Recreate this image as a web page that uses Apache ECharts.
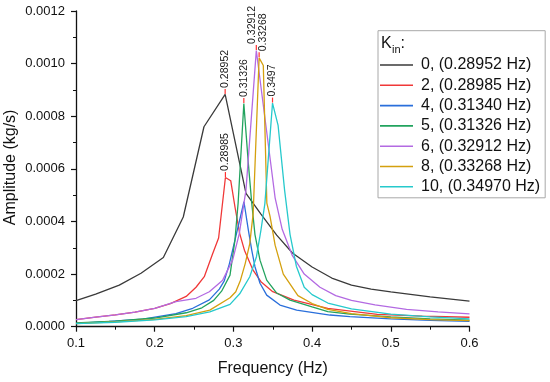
<!DOCTYPE html>
<html><head><meta charset="utf-8">
<script src="https://cdn.jsdelivr.net/npm/echarts@6/dist/echarts.min.js"></script>
<style>html,body{margin:0;padding:0;background:#fff}#c{width:550px;height:382px}</style>
</head><body><div id="c"></div>
<script>
// ---- data ----
const seriesNames = ['0, (0.28952 Hz)', '2, (0.28985 Hz)', '4, (0.31340 Hz)', '5, (0.31326 Hz)', '6, (0.32912 Hz)', '8, (0.33268 Hz)', '10, (0.34970 Hz)'];
const peakLabels = ['0.28952', '0.28985', null, '0.31326', '0.32912', '0.33268', '0.3497'];

const freqK0 = [0.1, 0.125, 0.155, 0.1826, 0.211, 0.2363, 0.2626, 0.28952, 0.316, 0.335, 0.355, 0.375, 0.4, 0.425, 0.45, 0.475, 0.5, 0.55, 0.6];
const ampK0  = [0.0000987, 0.000124, 0.000158, 0.000203, 0.000263, 0.000417, 0.00076, 0.000883, 0.000507, 0.000428, 0.000348, 0.00028, 0.000227, 0.000185, 0.000158, 0.000143, 0.000132, 0.000113, 0.0000975];

const freqK2 = [0.1, 0.125, 0.15, 0.175, 0.2, 0.22, 0.24, 0.2525, 0.263, 0.2735, 0.2812, 0.28985, 0.2966, 0.302, 0.308, 0.314, 0.325, 0.335, 0.35, 0.377, 0.42, 0.483, 0.54, 0.6];
const ampK2  = [0.000027, 0.000036, 0.000045, 0.000055, 0.00007, 0.000088, 0.000115, 0.00015, 0.00019, 0.000276, 0.000337, 0.000567, 0.000555, 0.000455, 0.000354, 0.000291, 0.000215, 0.000171, 0.000133, 0.000101, 0.00007, 0.000047, 0.00004, 0.000036];

const freqK4 = [0.1, 0.142, 0.185, 0.227, 0.2483, 0.2694, 0.2821, 0.2884, 0.2948, 0.3134, 0.319, 0.3233, 0.3274, 0.3338, 0.3423, 0.3592, 0.3804, 0.4227, 0.448, 0.5, 0.55, 0.6];
const ampK4  = [0.000013, 0.00002, 0.000029, 0.00005, 0.00007, 0.000102, 0.000143, 0.000174, 0.000238, 0.000475, 0.000367, 0.000291, 0.000228, 0.000165, 0.00012, 0.0000824, 0.0000634, 0.0000444, 0.000038, 0.00003, 0.000024, 0.00002];

const freqK5 = [0.1, 0.15, 0.2, 0.24, 0.26, 0.275, 0.285, 0.2957, 0.302, 0.306, 0.31326, 0.319, 0.3233, 0.3274, 0.3338, 0.3423, 0.355, 0.372, 0.4, 0.42, 0.448, 0.5, 0.55, 0.6];
const ampK5  = [0.000014, 0.000021, 0.000033, 0.000053, 0.000072, 0.0001, 0.000135, 0.000196, 0.00033, 0.00047, 0.000848, 0.00062, 0.00047, 0.00035, 0.000253, 0.000177, 0.000128, 0.000101, 0.000075, 0.000057, 0.000048, 0.000037, 0.00003, 0.000025];

const freqK6 = [0.1, 0.125, 0.15, 0.175, 0.2, 0.227, 0.2525, 0.2694, 0.2864, 0.299, 0.3075, 0.316, 0.32912, 0.353, 0.362, 0.375, 0.39, 0.41, 0.43, 0.45, 0.48, 0.52, 0.56, 0.6];
const ampK6  = [0.000027, 0.000036, 0.000045, 0.000055, 0.00007, 0.000095, 0.000108, 0.000133, 0.000177, 0.000253, 0.000354, 0.00052, 0.00105, 0.00049, 0.00037, 0.00027, 0.0002, 0.00015, 0.000118, 0.0001, 0.000083, 0.000066, 0.000056, 0.000049];

const freqK8 = [0.1, 0.15, 0.2, 0.24, 0.27, 0.2957, 0.303, 0.309, 0.315, 0.3208, 0.3251, 0.33268, 0.338, 0.3425, 0.3465, 0.353, 0.3634, 0.382, 0.4, 0.42, 0.45, 0.5, 0.55, 0.6];
const ampK8  = [0.000012, 0.000018, 0.000028, 0.000042, 0.000063, 0.00011, 0.000133, 0.000177, 0.00024, 0.000316, 0.00043, 0.001022, 0.000993, 0.00047, 0.00042, 0.00031, 0.0002, 0.000118, 0.000088, 0.000066, 0.00005, 0.000034, 0.000027, 0.000023];

const freqK10 = [0.1, 0.15, 0.2, 0.24, 0.27, 0.2957, 0.308, 0.3208, 0.3293, 0.335, 0.34, 0.3497, 0.3568, 0.365, 0.372, 0.38, 0.39, 0.4, 0.42, 0.45, 0.5, 0.55, 0.6];
const ampK10  = [0.000012, 0.000017, 0.000026, 0.000038, 0.000056, 0.000085, 0.000125, 0.00019, 0.000266, 0.000367, 0.000468, 0.00085, 0.000765, 0.00052, 0.00035, 0.00023, 0.00015, 0.000122, 0.00009, 0.000068, 0.000048, 0.000037, 0.00003];

const xTickLabels = ['0.1', '0.2', '0.3', '0.4', '0.5', '0.6'];
const yTickLabels = ['0.0000', '0.0002', '0.0004', '0.0006', '0.0008', '0.0010', '0.0012'];

// ---- styling ----
const FONT = '"Liberation Sans", Arial, sans-serif';
const colors = ['#3a3a3a', '#f03838', '#2a6fdb', '#22a35e', '#b36ae2', '#d4a00e', '#26c9cc'];
const labelShift = [0, 0, 0, 0, -4, 4, 0];
const freqs = [freqK0, freqK2, freqK4, freqK5, freqK6, freqK8, freqK10];
const amps = [ampK0, ampK2, ampK4, ampK5, ampK6, ampK8, ampK10];

const series = seriesNames.map((name, i) => {
  const data = freqs[i].map((f, j) => [f, amps[i][j]]);
  let peak = 0;
  amps[i].forEach((v, j) => { if (v > amps[i][peak]) peak = j; });
  const s = {
    name, type: 'line', data, symbol: 'none', showSymbol: false, smooth: false,
    lineStyle: { color: colors[i], width: 1.3 },
    itemStyle: { color: colors[i] },
    z: 2 + i
  };
  if (peakLabels[i]) {
    s.markPoint = {
      symbol: 'rect', symbolSize: [1.2, 5], symbolOffset: [0, -3],
      itemStyle: { color: '#ff3030' },
      animation: false,
      data: [{ coord: data[peak] }],
      label: {
        show: true, formatter: peakLabels[i], position: 'top', distance: 1,
        rotate: 90, align: 'left', verticalAlign: 'middle',
        offset: [0, labelShift[i]],
        fontSize: 10.5, fontFamily: FONT, color: '#1a1a1a'
      }
    };
  }
  return s;
});

const chart = echarts.init(document.getElementById('c'), null, { renderer: 'canvas' });
chart.setOption({
  animation: false,
  backgroundColor: '#fff',
  grid: { left: 76, right: 80.5, top: 11, bottom: 55.3, containLabel: false, outerBoundsMode: 'none' },
  xAxis: {
    type: 'value', min: 0.1, max: 0.6, interval: 0.1,
    name: 'Frequency (Hz)', nameLocation: 'middle', nameGap: 34,
    nameTextStyle: { fontSize: 16, fontFamily: FONT, color: '#111' },
    axisLine: { show: true, lineStyle: { color: '#111', width: 1.3 } },
    axisTick: { show: true, inside: false, length: 5, lineStyle: { color: '#111', width: 1.2 } },
    minorTick: { show: true, splitNumber: 2, length: 3, lineStyle: { color: '#111', width: 1 } },
    splitLine: { show: false },
    axisLabel: { fontSize: 13, fontFamily: FONT, color: '#111', margin: 10,
      formatter: v => { const k = Math.round((v - 0.1) / 0.1); return xTickLabels[k] !== undefined ? xTickLabels[k] : v.toFixed(1); } }
  },
  yAxis: {
    type: 'value', min: 0, max: 0.0012, interval: 0.0002,
    name: 'Amplitude (kg/s)', nameLocation: 'middle', nameGap: 57, nameMoveOverlap: false,
    nameTextStyle: { fontSize: 16, fontFamily: FONT, color: '#111', padding: [0, 0, 0, 3] },
    axisLine: { show: true, lineStyle: { color: '#111', width: 1.3 } },
    axisTick: { show: true, inside: false, length: 5, lineStyle: { color: '#111', width: 1.2 } },
    minorTick: { show: true, splitNumber: 2, length: 3, lineStyle: { color: '#111', width: 1 } },
    splitLine: { show: false },
    axisLabel: { fontSize: 13, fontFamily: FONT, color: '#111', margin: 11,
      formatter: v => { const k = Math.round(v / 0.0002); return yTickLabels[k] !== undefined ? yTickLabels[k] : v.toFixed(4); } }
  },
  legend: {
    show: true, orient: 'vertical', left: 378, top: 30.7,
    padding: [26.3, 5, 3, 2],
    icon: 'rect', itemWidth: 33, itemHeight: 1.6, itemGap: 4.3,
    borderColor: '#a8a8a8', borderWidth: 1,
    backgroundColor: '#fff',
    data: seriesNames,
    textStyle: { fontSize: 16, fontFamily: FONT, color: '#111', padding: [0, 0, 0, 3] }
  },
  graphic: [
    { type: 'text', left: 381, top: 36, z: 100, style: { text: 'K', fontSize: 16, fontFamily: FONT, fill: '#111' } },
    { type: 'text', left: 392, top: 44, z: 100, style: { text: 'in', fontSize: 11, fontFamily: FONT, fill: '#111' } },
    { type: 'text', left: 400.5, top: 36, z: 100, style: { text: ':', fontSize: 16, fontFamily: FONT, fill: '#111' } }
  ],
  series
});
</script>
</body></html>
